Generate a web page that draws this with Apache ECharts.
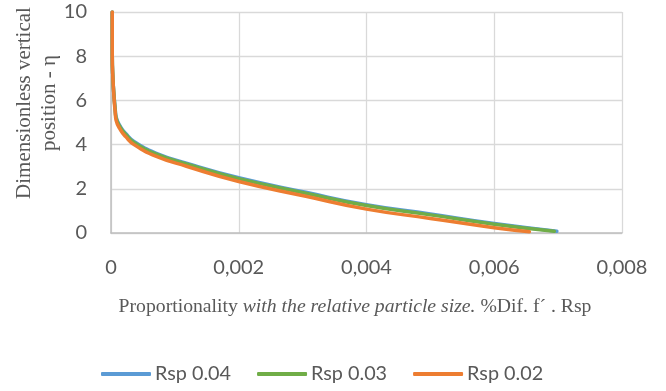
<!DOCTYPE html>
<html>
<head>
<meta charset="utf-8">
<script src="https://cdn.jsdelivr.net/npm/echarts@6/dist/echarts.min.js"></script>
<style>
html,body{margin:0;padding:0;background:#fff;}
#c{width:666px;height:391px;}
</style>
</head>
<body>
<div id="c"></div>
<script>
// ---- data ----
const seriesNames = ['Rsp 0.04', 'Rsp 0.03', 'Rsp 0.02'];
const xTicks = [0, 0.002, 0.004, 0.006, 0.008];
const yTicks = [0, 2, 4, 6, 8, 10];

// Rsp 0.04 (blue)
const rsp004X   = [0.00002, 0.00002, 0.00003, 0.00005, 0.000065, 0.00008, 0.00015, 0.00023, 0.00036, 0.0007, 0.00118, 0.002, 0.00305, 0.004, 0.005, 0.006, 0.00698];
const rsp004Eta = [10, 8, 7, 6.12, 5.65, 5.25, 4.8, 4.5, 4.14, 3.62, 3.16, 2.5, 1.84, 1.28, 0.86, 0.43, 0.08];
// Rsp 0.03 (green)
const rsp003X   = [0.00002, 0.00002, 0.00003, 0.00005, 0.000065, 0.00008, 0.00015, 0.00023, 0.00036, 0.0007, 0.00118, 0.002, 0.00305, 0.004, 0.005, 0.006, 0.00694];
const rsp003Eta = [10, 8, 7, 6.08, 5.6, 5.2, 4.76, 4.46, 4.1, 3.58, 3.12, 2.46, 1.8, 1.24, 0.82, 0.4, 0.08];
// Rsp 0.02 (orange)
const rsp002X   = [0.00002, 0.00002, 0.00003, 0.00005, 0.000065, 0.00008, 0.00015, 0.00023, 0.00036, 0.0007, 0.00118, 0.002, 0.00305, 0.004, 0.005, 0.006, 0.00655];
const rsp002Eta = [10, 8, 7, 6, 5.5, 5.1, 4.66, 4.36, 4.0, 3.48, 3.02, 2.33, 1.66, 1.08, 0.66, 0.24, 0.06];

const colors = ['#5B9BD5', '#70AD47', '#ED7D31'];

function pairs(xs, ys){ return xs.map((x,i)=>[x, ys[i]]); }
const seriesData = [pairs(rsp004X, rsp004Eta), pairs(rsp003X, rsp003Eta), pairs(rsp002X, rsp002Eta)];

const chart = echarts.init(document.getElementById('c'), null, {renderer:'canvas'});
const tickFont = 'Lato';
const serif = '"Liberation Serif", "Times New Roman", serif';

chart.setOption({
  animation: false,
  backgroundColor: '#ffffff',
  color: colors,
  grid: {left: 111, right: 44, top: 12, bottom: 158, containLabel: false},
  xAxis: {
    type: 'value',
    min: xTicks[0], max: xTicks[xTicks.length-1], interval: 0.002,
    axisLine: {show: true, lineStyle: {color: '#BFBFBF', width: 1.5}},
    axisTick: {show: false},
    splitLine: {show: true, lineStyle: {color: '#D9D9D9', width: 1.3}},
    axisLabel: {
      margin: 25, color: '#595959', fontFamily: tickFont, fontSize: 20,
      formatter: v => v === 0 ? '0' : v.toFixed(3).replace('.', ',')
    }
  },
  yAxis: {
    type: 'value',
    min: yTicks[0], max: yTicks[yTicks.length-1], interval: 2,
    axisLine: {show: true, lineStyle: {color: '#BFBFBF', width: 1.5}},
    axisTick: {show: false},
    splitLine: {show: true, lineStyle: {color: '#D9D9D9', width: 1.3}},
    axisLabel: {margin: 24, color: '#595959', fontFamily: tickFont, fontSize: 20}
  },
  legend: {
    data: seriesNames,
    left: 101, top: 364, padding: 0,
    icon: 'roundRect',
    itemWidth: 50, itemHeight: 4, itemGap: 26,
    textStyle: {color: '#595959', fontFamily: tickFont, fontSize: 19.8, padding: [0, 0, 0, -1]}
  },
  graphic: [
    {
      type: 'text', x: 36.5, y: 103, rotation: Math.PI/2,
      style: {
        text: 'Dimensionless vertical\nposition - η',
        fontFamily: serif, fontSize: 21, fill: '#595959',
        align: 'center', verticalAlign: 'middle', lineHeight: 25
      }
    },
    {
      type: 'text', x: 355, y: 307,
      style: {
        text: '{n|Proportionality }{i|with the relative particle size.}{n| %Dif. f´ . Rsp}',
        align: 'center', verticalAlign: 'middle',
        rich: {
          n: {fontFamily: serif, fontSize: 19.7, fill: '#595959'},
          i: {fontFamily: serif, fontSize: 19.7, fontStyle: 'italic', fill: '#595959'}
        }
      }
    }
  ],
  series: seriesNames.map((name, i) => ({
    name: name, type: 'line', data: seriesData[i],
    showSymbol: false, symbol: 'none', smooth: 0.5,
    lineStyle: {width: 3.5, color: colors[i], cap: 'round'},
    itemStyle: {color: colors[i]},
    z: 2 + i
  }))
});
</script>
</body>
</html>
